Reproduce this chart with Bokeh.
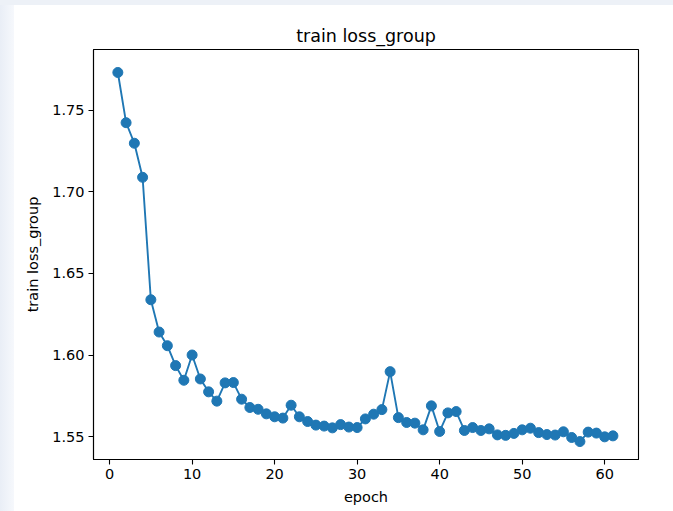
from bokeh.plotting import figure
from bokeh.models import Range1d, FixedTicker, NumeralTickFormatter, Div
from bokeh.layouts import column, row
from bokeh.embed import file_html
from bokeh.resources import INLINE

epochs = list(range(1, 62))
loss = [1.7733, 1.7425, 1.7299, 1.7090, 1.6339, 1.6141, 1.6057, 1.5935, 1.5845, 1.6000,
        1.5853, 1.5774, 1.5717, 1.5829, 1.5831, 1.5729, 1.5678, 1.5667, 1.5639, 1.5621,
        1.5613, 1.5692, 1.5621, 1.5592, 1.5570, 1.5564, 1.5553, 1.5573, 1.5558, 1.5555,
        1.5608, 1.5637, 1.5665, 1.5898, 1.5616, 1.5586, 1.5582, 1.5541, 1.5688, 1.5531,
        1.5645, 1.5653, 1.5537, 1.5555, 1.5537, 1.5547, 1.5510, 1.5507, 1.5519, 1.5541,
        1.5551, 1.5524, 1.5512, 1.5509, 1.5529, 1.5494, 1.5469, 1.5527, 1.5521, 1.5498,
        1.5504]
x_ticks = [0, 10, 20, 30, 40, 50, 60]
y_ticks = [1.55, 1.60, 1.65, 1.70, 1.75]

FONT = "DejaVu Sans"
BLUE = "#1f77b4"

p = figure(width=659, height=506, output_backend="svg", toolbar_location=None,
           x_range=Range1d(-1.95, 64.1), y_range=Range1d(1.5359, 1.7874),
           min_border_left=79, min_border_right=35, min_border_top=44, min_border_bottom=52,
           title="train loss_group")
p.margin = 0
p.background_fill_color = "white"
p.border_fill_color = "white"
p.outline_line_color = "black"
p.outline_line_width = 1.1
p.xgrid.visible = False
p.ygrid.visible = False

p.title.align = "center"
p.title.text_font = FONT
p.title.text_font_size = "17.5px"
p.title.text_font_style = "normal"
p.title.text_color = "black"
p.title.standoff = 8

p.line(epochs, loss, line_color=BLUE, line_width=1.9)
p.scatter(epochs, loss, size=10, fill_color=BLUE, line_color=BLUE)

for ax in (p.xaxis[0], p.yaxis[0]):
    ax.axis_line_color = "black"
    ax.axis_line_width = 1.1
    ax.major_tick_line_color = "black"
    ax.major_tick_line_width = 1.1
    ax.major_tick_out = 5
    ax.major_tick_in = 0
    ax.minor_tick_out = 0
    ax.minor_tick_in = 0
    ax.major_label_text_font = FONT
    ax.major_label_text_font_size = "14.5px"
    ax.major_label_text_color = "black"
    ax.axis_label_text_font = FONT
    ax.axis_label_text_font_size = "14.5px"
    ax.axis_label_text_font_style = "normal"
    ax.axis_label_text_color = "black"

p.xaxis.ticker = FixedTicker(ticks=x_ticks)
p.yaxis.ticker = FixedTicker(ticks=y_ticks)
p.yaxis.formatter = NumeralTickFormatter(format="0.00")
p.xaxis.axis_label = "epoch"
p.yaxis.axis_label = "train loss_group"
p.xaxis.major_label_standoff = 4
p.yaxis.major_label_standoff = 4
p.xaxis.axis_label_standoff = 7
p.yaxis.axis_label_standoff = 8

top_strip = Div(text="", width=673, height=5, margin=0,
                styles={"background-color": "#edf1f7"})
left_strip = Div(text="", width=14, height=506, margin=0,
                 styles={"background": "linear-gradient(to right, #e9eef6, #f6f8fc)"})
layout = column(top_strip, row(left_strip, p, spacing=0), spacing=0)

open("out.html", "w").write(file_html(layout, INLINE))
